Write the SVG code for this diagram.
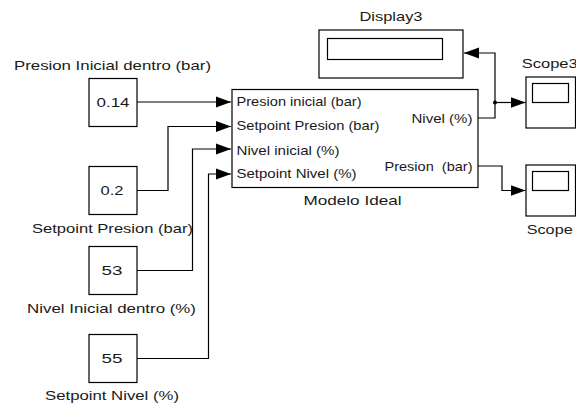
<svg xmlns="http://www.w3.org/2000/svg" width="576" height="406" viewBox="0 0 576 406">
<style>
text{font-family:"Liberation Sans",Arial,sans-serif;font-size:13px;fill:#1a1a1a}
.box{fill:#fff;stroke:#000;stroke-width:1.2}
.in{fill:#fff;stroke:#000;stroke-width:1.2}
.w{fill:none;stroke:#000;stroke-width:1.2}
.m{text-anchor:middle}
.e{text-anchor:end}
</style>
<defs>
<marker id="ah" markerUnits="userSpaceOnUse" markerWidth="15" markerHeight="12" refX="15" refY="6" orient="auto">
<path d="M0,0.5 L15,6 L0,11.5 z" fill="#000"/>
</marker>
</defs>
<rect width="576" height="406" fill="#fff"/>
<g id="connectors">
<path class="w" d="M137,102 H231" marker-end="url(#ah)"/>
<path class="w" d="M137,190.5 H168 V126.5 H231" marker-end="url(#ah)"/>
<path class="w" d="M137,270.5 H192.5 V149 H231" marker-end="url(#ah)"/>
<path class="w" d="M137,358.5 H208.5 V174 H231" marker-end="url(#ah)"/>
<path class="w" d="M478,118 H495 V53 H464" marker-end="url(#ah)"/>
<path class="w" d="M495,102.5 H525.5" marker-end="url(#ah)"/>
<circle cx="495" cy="102.5" r="2" fill="#000"/>
<path class="w" d="M478,166 H502 V190.5 H525.5" marker-end="url(#ah)"/>
</g>
<g id="const-presion-inicial">
<rect class="box" x="89" y="78.5" width="48" height="48"/>
<text class="m" x="113" y="106.5" textLength="33" lengthAdjust="spacingAndGlyphs">0.14</text>
<text class="m" x="112.5" y="69.5" textLength="197" lengthAdjust="spacingAndGlyphs">Presion Inicial dentro (bar)</text>
</g>
<g id="const-setpoint-presion">
<rect class="box" x="89" y="166.5" width="48" height="48"/>
<text class="m" x="112" y="195" textLength="23" lengthAdjust="spacingAndGlyphs">0.2</text>
<text class="m" x="112.5" y="232.5" textLength="161" lengthAdjust="spacingAndGlyphs">Setpoint Presion (bar)</text>
</g>
<g id="const-nivel-inicial">
<rect class="box" x="89" y="246.5" width="48" height="48"/>
<text class="m" x="112" y="275" textLength="21" lengthAdjust="spacingAndGlyphs">53</text>
<text class="m" x="111.5" y="312.5" textLength="169" lengthAdjust="spacingAndGlyphs">Nivel Inicial dentro (%)</text>
</g>
<g id="const-setpoint-nivel">
<rect class="box" x="89" y="334.5" width="48" height="48"/>
<text class="m" x="112" y="363" textLength="21" lengthAdjust="spacingAndGlyphs">55</text>
<text class="m" x="112" y="399.5" textLength="134" lengthAdjust="spacingAndGlyphs">Setpoint Nivel (%)</text>
</g>
<g id="modelo-ideal">
<rect class="box" x="232" y="89.5" width="246" height="98"/>
<text x="236.5" y="106" textLength="125" lengthAdjust="spacingAndGlyphs">Presion inicial (bar)</text>
<text x="236.5" y="129.5" textLength="143" lengthAdjust="spacingAndGlyphs">Setpoint Presion (bar)</text>
<text x="236.5" y="154.5" textLength="103" lengthAdjust="spacingAndGlyphs">Nivel inicial (%)</text>
<text x="236.5" y="177.5" textLength="120" lengthAdjust="spacingAndGlyphs">Setpoint Nivel (%)</text>
<text class="e" x="472.5" y="122.5" textLength="61" lengthAdjust="spacingAndGlyphs">Nivel (%)</text>
<text class="e" x="472.5" y="170.5" textLength="88" lengthAdjust="spacingAndGlyphs">Presion&#160; (bar)</text>
<text class="m" x="352.5" y="204.5" textLength="98" lengthAdjust="spacingAndGlyphs">Modelo Ideal</text>
</g>
<g id="display3">
<rect class="box" x="319" y="30" width="144" height="48"/>
<rect class="in" x="327.5" y="38.5" width="115" height="21"/>
<text class="m" x="391" y="21" textLength="63" lengthAdjust="spacingAndGlyphs">Display3</text>
</g>
<g id="scope3">
<rect class="box" x="526" y="77" width="49.5" height="51"/>
<rect class="in" x="532.5" y="83.5" width="36" height="19"/>
<text x="521.7" y="67.5" textLength="56" lengthAdjust="spacingAndGlyphs">Scope3</text>
</g>
<g id="scope">
<rect class="box" x="526" y="165" width="49.5" height="51"/>
<rect class="in" x="532.5" y="171.5" width="36" height="19"/>
<text x="526.7" y="233.5" textLength="46" lengthAdjust="spacingAndGlyphs">Scope</text>
</g>
</svg>
